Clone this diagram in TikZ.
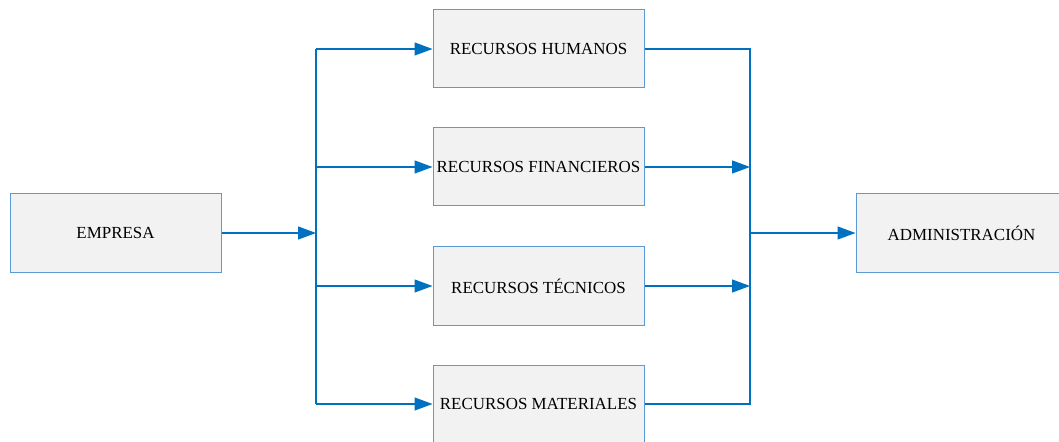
\documentclass[tikz,border=0pt]{standalone}
\usepackage{fontspec}
\setmainfont{Liberation Serif}
\usetikzlibrary{arrows.meta}
\definecolor{linea}{RGB}{0,112,192}
\definecolor{borde}{RGB}{91,155,213}
\definecolor{relleno}{RGB}{242,242,242}
\tikzset{
  caja/.style={draw=borde, fill=relleno, line width=1pt, minimum width=211bp,
    minimum height=78bp, inner sep=0pt, font=\fontsize{17}{20}\selectfont},
  conector/.style={draw=linea, line width=1.3pt},
  flecha/.style={conector, -{Triangle[length=18bp, width=13bp]}}
}
\begin{document}
\begin{tikzpicture}[x=1bp, y=-1bp]
		% Frame
		\useasboundingbox (0,0) rectangle (1059,442);
		\clip (0,0) rectangle (1059,442);

		% Boxes
		\node[caja] (empresa) at (115.5,233) {EMPRESA};
		\node[caja] (humanos) at (538.5,49) {RECURSOS HUMANOS};
		\node[caja] (financieros) at (538.5,167) {RECURSOS FINANCIEROS};
		\node[caja] (tecnicos) at (538.5,286) {RECURSOS TÉCNICOS};
		\node[caja] (materiales) at (538.5,404) {RECURSOS MATERIALES};
		\node[caja] (admin) at (961.5,233) {ADMINISTRACIÓN};

		% Junctions
		\coordinate (izq) at (316,233);
		\coordinate (der) at (750,233);

		% Left side
		\draw[flecha] (empresa) -- (izq);
		\draw[conector] (izq |- humanos) -- (izq |- materiales);
		\draw[flecha] (izq |- humanos) -- (humanos);
		\draw[flecha] (izq |- financieros) -- (financieros);
		\draw[flecha] (izq |- tecnicos) -- (tecnicos);
		\draw[flecha] (izq |- materiales) -- (materiales);

		% Right side
		\draw[conector] (humanos) -| (der);
		\draw[conector] (materiales) -| (der);
		\draw[flecha] (financieros) -- (financieros -| der);
		\draw[flecha] (tecnicos) -- (tecnicos -| der);
		\draw[flecha] (der) -- (admin);
	\end{tikzpicture}
\end{document}
